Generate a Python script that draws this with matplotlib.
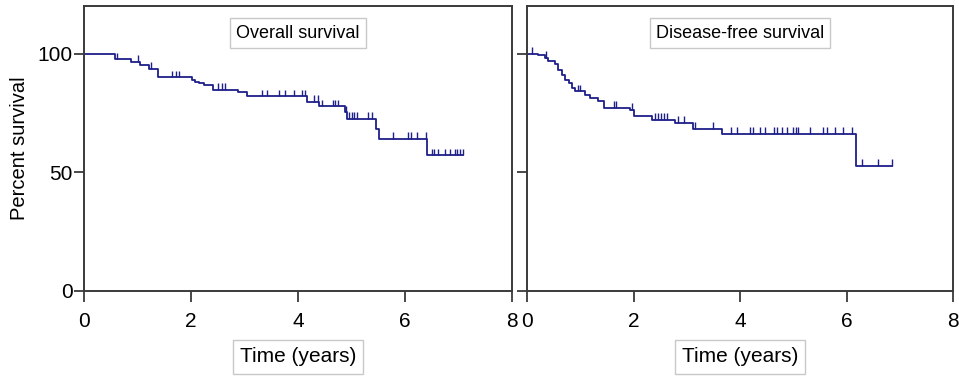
import matplotlib.pyplot as plt
import numpy as np

plt.rcParams['font.family'] = ['Liberation Sans', 'DejaVu Sans']

# Overall survival: step times and levels (Kaplan-Meier)
os_times = [0, 0.58, 0.87, 1.05, 1.22, 1.38, 2.01, 2.07, 2.15, 2.25, 2.41, 2.88, 3.04,
            4.16, 4.40, 4.88, 4.91, 5.46, 5.52, 6.42]
os_surv = [100, 97.5, 96.5, 95.0, 93.5, 90.0, 89.0, 88.2, 87.5, 86.6, 84.8, 84.0, 82.0,
           79.6, 77.8, 75.3, 72.5, 68.2, 64.1, 57.1]
os_end = 7.08
os_censor = [0.62, 1.0, 1.25, 1.64, 1.72, 1.78, 2.5, 2.58, 2.64, 3.33, 3.42, 3.64, 3.75,
             3.92, 4.07, 4.13, 4.3, 4.37, 4.45, 4.66, 4.70, 4.74, 4.89, 4.96, 5.0, 5.04,
             5.1, 5.3, 5.38, 5.78, 6.06, 6.12, 6.22, 6.40, 6.5, 6.55, 6.62, 6.75, 6.84,
             6.93, 6.98, 7.03, 7.08]

# Disease-free survival
dfs_times = [0, 0.2, 0.33, 0.4, 0.53, 0.58, 0.65, 0.71, 0.78, 0.84, 0.9, 1.09, 1.18,
             1.34, 1.45, 1.93, 2.0, 2.34, 2.78, 3.12, 3.66, 6.18]
dfs_surv = [100, 99.2, 98.2, 96.7, 95.4, 93.2, 91.1, 89.0, 87.6, 85.5, 84.1, 82.7, 81.3,
            79.9, 77.1, 76.4, 73.8, 72.2, 70.8, 68.4, 66.2, 52.7]
dfs_end = 6.85
dfs_censor = [0.1, 0.35, 0.96, 1.0, 1.63, 1.68, 1.97, 2.4, 2.46, 2.52, 2.57, 2.62, 2.84,
              2.94, 3.16, 3.49, 3.84, 3.94, 4.19, 4.24, 4.38, 4.47, 4.63, 4.69, 4.78,
              4.88, 5.0, 5.05, 5.09, 5.31, 5.56, 5.63, 5.78, 5.94, 6.1, 6.3, 6.6, 6.85]

panels = [
    ("Overall survival", os_times, os_surv, os_end, os_censor),
    ("Disease-free survival", dfs_times, dfs_surv, dfs_end, dfs_censor),
]

line_col = '#1f1f8a'
spine_col = '#3a3a3a'
box = dict(boxstyle='square,pad=0.35', facecolor='white', edgecolor='#c8c8c8', linewidth=1)

fig = plt.figure(figsize=(9.59, 3.76), dpi=100)
positions = [[84 / 959, 85 / 376, 428 / 959, 285 / 376],
             [527 / 959, 85 / 376, 426 / 959, 285 / 376]]

for i, (title, t, s, t_end, cens) in enumerate(panels):
    ax = fig.add_axes(positions[i])
    tt = list(t) + [t_end]
    ss = list(s) + [s[-1]]
    ax.step(tt, ss, where='post', color=line_col, lw=1.3)
    # censor marks sit on the curve
    idx = np.searchsorted(t, cens, side='right') - 1
    lev = np.array(s)[idx]
    ax.vlines(cens, lev, lev + 2.8, color=line_col, lw=1.0)

    ax.set_xlim(0, 8)
    ax.set_ylim(0, 120)
    ax.set_xticks([0, 2, 4, 6, 8])
    ax.set_yticks([0, 50, 100])
    if i == 1:
        ax.set_yticklabels([])
    else:
        ax.set_ylabel("Percent survival", fontsize=14.5, labelpad=6)
    for sp in ax.spines.values():
        sp.set_color(spine_col)
        sp.set_linewidth(1.4)
    ax.tick_params(axis='y', direction='out', length=7, width=1.3, color=spine_col,
                   labelsize=15, pad=1)
    ax.tick_params(axis='x', direction='out', length=8, width=1.3, color=spine_col,
                   labelsize=15, pad=7)
    ax.text(0.5, 0.905, title, transform=ax.transAxes, ha='center', va='center',
            fontsize=13, bbox=box)
    ax.set_xlabel("Time (years)", fontsize=15, labelpad=12, bbox=box)

fig.savefig("out.png", dpi=100)
